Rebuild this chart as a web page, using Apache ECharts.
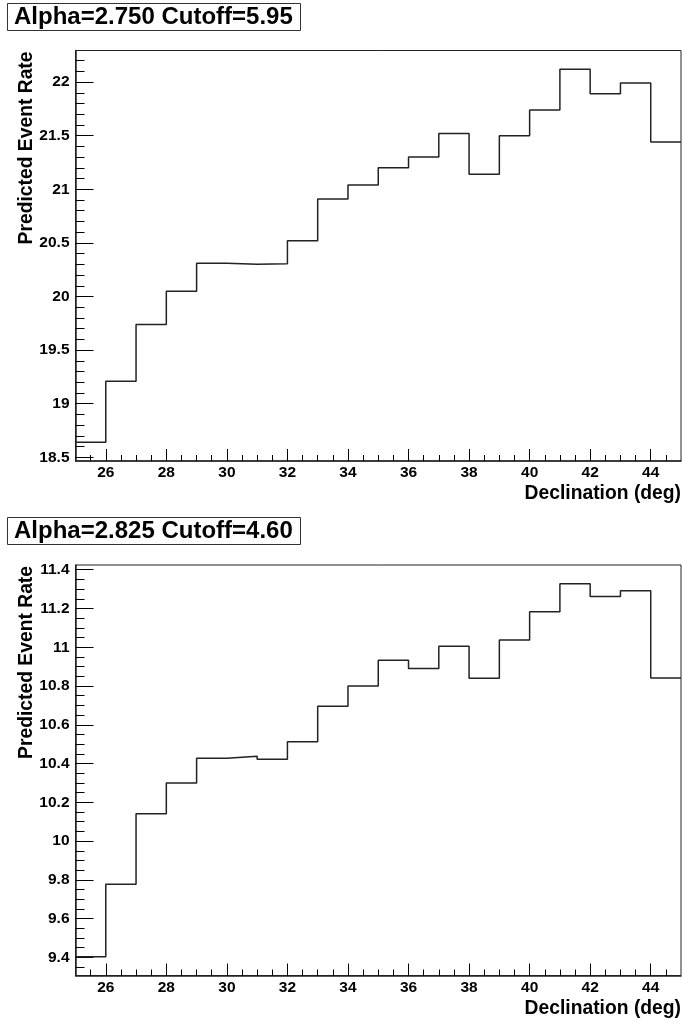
<!DOCTYPE html>
<html>
<head>
<meta charset="utf-8">
<script src="https://cdn.jsdelivr.net/npm/echarts@6/dist/echarts.min.js"></script>
<style>
  html, body { margin: 0; padding: 0; background: #fff; }
  #chart { width: 682px; height: 1025px; }
</style>
</head>
<body>
<div id="chart"></div>
<script>
// ---- data ----
const binLowEdges = [25, 26, 27, 28, 29, 30, 31, 32, 33, 34, 35, 36, 37, 38, 39, 40, 41, 42, 43, 44];
const binUpperEnd = 45;
const rateTop = [18.64, 19.21, 19.74, 20.05, 20.31, 20.30, 20.305, 20.52, 20.91, 21.04,
                 21.20, 21.30, 21.52, 21.14, 21.50, 21.74, 22.12, 21.89, 21.99, 21.44];
const rateBottom = [9.403, 9.778, 10.141, 10.30, 10.428, 10.438, 10.422, 10.512, 10.695, 10.80,
                    10.933, 10.89, 11.005, 10.84, 11.038, 11.183, 11.328, 11.262, 11.291, 10.841];
const titleTop = 'Alpha=2.750 Cutoff=5.95';
const titleBottom = 'Alpha=2.825 Cutoff=4.60';
const xLabelTicks = [26, 28, 30, 32, 34, 36, 38, 40, 42, 44];
const yTicksTop = [18.5, 19, 19.5, 20, 20.5, 21, 21.5, 22];
const yTicksBottom = [9.4, 9.6, 9.8, 10, 10.2, 10.4, 10.6, 10.8, 11, 11.2, 11.4];
const xTitle = 'Declination (deg)';
const yTitle = 'Predicted Event Rate';

// ---- helpers ----
const FONT = '"Liberation Sans", Arial, Helvetica, sans-serif';
function stepData(vals) {
  const d = binLowEdges.map((x, i) => [x, vals[i]]);
  d.push([binUpperEnd, vals[vals.length - 1]]);
  return d;
}
function range(vals) {
  const mn = Math.min(...vals), mx = Math.max(...vals);
  const m = 0.05 * (mx - mn);
  return [mn - m, mx + m];
}
function seq(a, b, step) {
  const out = [];
  const n = Math.round((b - a) / step);
  for (let i = 0; i <= n; i++) out.push(Math.round((a + i * step) * 1000) / 1000);
  return out;
}
const xMinor = seq(25.5, 44.5, 0.5);

const [t0, t1] = range(rateTop);
const [b0, b1] = range(rateBottom);
const yMinorTop = seq(18.5, 22.2, 0.1).filter(v => v > t0 && v < t1);
const yMinorBottom = seq(9.35, 11.4, 0.05).filter(v => v > b0 && v < b1);

const grids = [
  { left: 75.5, right: 1, top: 50.5, height: 410.5, show: true, borderColor: '#222', borderWidth: 1, backgroundColor: '#fff' },
  { left: 75.5, right: 1, top: 565, height: 410.5, show: true, borderColor: '#222', borderWidth: 1, backgroundColor: '#fff' }
];

function xAxesFor(gi) {
  return [
    {
      type: 'value', gridIndex: gi, min: 25, max: 45, position: 'bottom',
      splitLine: { show: false },
      axisLine: { show: true, onZero: false, lineStyle: { color: '#222', width: 1.5 } },
      axisTick: { show: true, inside: true, length: 12, customValues: xLabelTicks, lineStyle: { color: '#000', width: 1 } },
      axisLabel: { show: true, customValues: xLabelTicks, margin: 4, fontFamily: FONT, fontWeight: 'bold', fontSize: 15.5, color: '#000' }
    },
    {
      type: 'value', gridIndex: gi, min: 25, max: 45, position: 'bottom',
      splitLine: { show: false },
      axisLine: { show: false, onZero: false },
      axisTick: { show: true, inside: true, length: 6, customValues: xMinor, lineStyle: { color: '#000', width: 1 } },
      axisLabel: { show: false }
    }
  ];
}
function yAxesFor(gi, mn, mx, majors, minors) {
  return [
    {
      type: 'value', gridIndex: gi, min: mn, max: mx, position: 'left',
      splitLine: { show: false },
      axisLine: { show: true, onZero: false, lineStyle: { color: '#222', width: 1.5 } },
      axisTick: { show: true, inside: true, length: 18, customValues: majors, lineStyle: { color: '#000', width: 1 } },
      axisLabel: { show: true, customValues: majors, margin: 6, fontFamily: FONT, fontWeight: 'bold', fontSize: 15.5, color: '#000', formatter: v => String(v) }
    },
    {
      type: 'value', gridIndex: gi, min: mn, max: mx, position: 'left',
      splitLine: { show: false },
      axisLine: { show: false, onZero: false },
      axisTick: { show: true, inside: true, length: 9, customValues: minors, lineStyle: { color: '#000', width: 1 } },
      axisLabel: { show: false }
    }
  ];
}

const titleStyle = { fontFamily: FONT, fontWeight: 'bold', fontSize: 24, lineHeight: 24, color: '#000' };

const option = {
  animation: false,
  backgroundColor: '#fff',
  title: [
    { text: titleTop, left: 7, top: 3, padding: [2, 8, 2, 7], borderColor: '#333', borderWidth: 1, backgroundColor: '#fff', textStyle: titleStyle },
    { text: titleBottom, left: 7, top: 517, padding: [2, 8, 2, 7], borderColor: '#333', borderWidth: 1, backgroundColor: '#fff', textStyle: titleStyle }
  ],
  grid: grids,
  xAxis: [...xAxesFor(0), ...xAxesFor(1)],
  yAxis: [...yAxesFor(0, t0, t1, yTicksTop, yMinorTop), ...yAxesFor(1, b0, b1, yTicksBottom, yMinorBottom)],
  series: [
    { type: 'line', xAxisIndex: 0, yAxisIndex: 0, step: 'end', data: stepData(rateTop), showSymbol: false, symbol: 'none',
      lineStyle: { color: '#222', width: 1.5 }, clip: true },
    { type: 'line', xAxisIndex: 2, yAxisIndex: 2, step: 'end', data: stepData(rateBottom), showSymbol: false, symbol: 'none',
      lineStyle: { color: '#222', width: 1.5 }, clip: true }
  ],
  graphic: [
    { type: 'text', x: 27, y: 51.5, rotation: Math.PI / 2, style: { text: yTitle, fill: '#000', font: 'bold 19.3px ' + FONT, align: 'right', verticalAlign: 'middle' } },
    { type: 'text', x: 27, y: 566, rotation: Math.PI / 2, style: { text: yTitle, fill: '#000', font: 'bold 19.3px ' + FONT, align: 'right', verticalAlign: 'middle' } },
    { type: 'text', x: 681, y: 493.3, style: { text: xTitle, fill: '#000', font: 'bold 19.3px ' + FONT, align: 'right', verticalAlign: 'middle' } },
    { type: 'text', x: 681, y: 1008.8, style: { text: xTitle, fill: '#000', font: 'bold 19.3px ' + FONT, align: 'right', verticalAlign: 'middle' } }
  ]
};

const chart = echarts.init(document.getElementById('chart'), null, { renderer: 'canvas' });
chart.setOption(option);
</script>
</body>
</html>
